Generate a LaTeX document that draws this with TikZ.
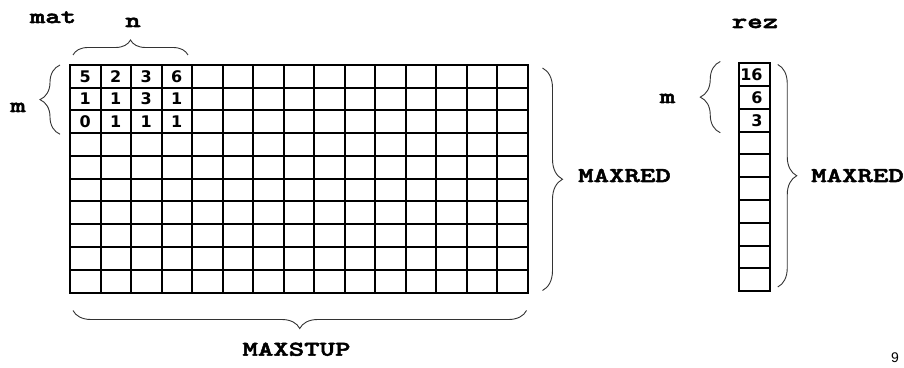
\documentclass[tikz,border=0pt]{standalone}
\usepackage{fontspec}
\setmainfont{Liberation Sans}
\newfontfamily\lblfont[FakeStretch=1.4,FakeBold=2.5]{lmmonolt10-bold.otf}
\newfontfamily\numfont{DejaVu Sans}
\usetikzlibrary{decorations.pathreplacing,positioning}

\begin{document}
\begin{tikzpicture}[x=1pt,y=1pt,
      cell/.style={draw,line width=2pt,minimum width=30.5pt,minimum height=22.75pt,inner sep=0pt,outer sep=0pt},
      num/.style={font=\numfont\bfseries\fontsize{16}{16}\selectfont,inner sep=0pt},
      lbl/.style={font=\lblfont\fontsize{21}{21}\selectfont,inner sep=0pt,anchor=base},
      brc/.style={decorate,decoration={brace,amplitude=#1},draw=black!80,line width=.9pt}]
      \useasboundingbox (0,0) rectangle (904,367);
      % mat: 10 x 15
      \foreach \r in {1,...,10}
        \foreach \c in {1,...,15}
          \node[cell] (mat-\r-\c) at ({70+30.5*(\c-.5)},{302-22.75*(\r-.5)}) {};
      \foreach \row [count=\r] in {{5,2,3,6},{1,1,3,1},{0,1,1,1}}
        \foreach \v [count=\c] in \row
          \node[num] (v-\r-\c) at (mat-\r-\c) {\v};
      % rez: 10 x 1
      \foreach \r in {1,...,10}
        \node[cell] (rez-\r) at (754.5,{303.5-22.75*(\r-.5)}) {};
      \foreach \v [count=\r] in {16,6,3}
        \node[num,anchor=east] (w-\r) at ([xshift=-7pt]rez-\r.east) {\v};
      % braces
      \draw[brc=15] ([xshift=3pt,yshift=10pt]mat-1-1.north west) -- ([xshift=-4pt,yshift=10pt]mat-1-4.north east);
      \draw[brc=20] ([xshift=-10pt,yshift=-1pt]mat-3-1.south west) -- ([xshift=-10pt]mat-1-1.north west);
      \draw[brc=20] ([xshift=15pt,yshift=-3pt]mat-1-15.north east) -- ([xshift=15pt,yshift=2pt]mat-10-15.south east);
      \draw[brc=18] ([xshift=-1pt,yshift=-18pt]mat-10-15.south east) -- ([xshift=3pt,yshift=-18pt]mat-10-1.south west);
      \draw[brc=20] ([xshift=-19pt,yshift=-1pt]rez-3.south west) -- ([xshift=-19pt,yshift=2pt]rez-1.north west);
      \draw[brc=19] ([xshift=8pt,yshift=-1pt]rez-1.north east) -- ([xshift=8pt,yshift=4pt]rez-10.south east);
      % labels
      \node[lbl] (matlbl) at (53,344) {mat};
      \node[lbl] (nlbl) at (133,340) {n};
      \node[lbl] (mlbl) at (18,255) {m};
      \node[lbl] (redlbl) at (624.5,185) {MAXRED};
      \node[lbl] (stuplbl) at (296.5,11.3) {MAXSTUP};
      \node[lbl] (rezlbl) at (755,339) {rez};
      \node[lbl] (mrlbl) at (667.5,264) {m};
      \node[lbl] (redlbl2) at (857.5,185) {MAXRED};
      \node[font=\fontsize{14}{14}\selectfont,inner sep=0pt,anchor=base] (pg) at (895,5) {9};
    \end{tikzpicture}
\end{document}
